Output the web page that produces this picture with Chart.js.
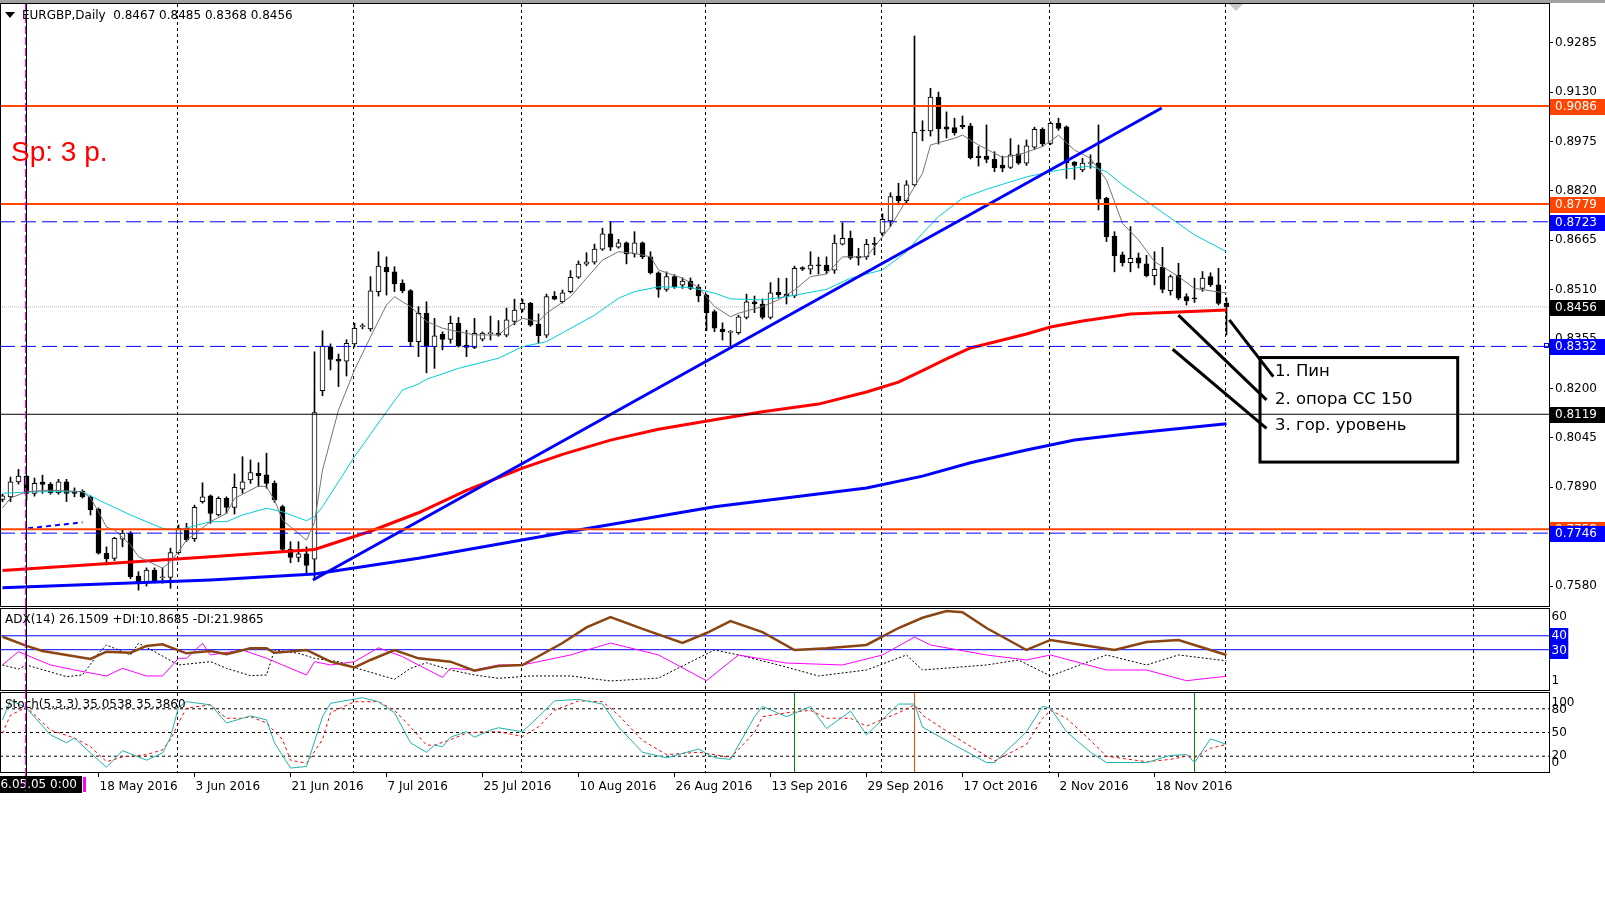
<!DOCTYPE html>
<html>
<head>
<meta charset="utf-8">
<title>EURGBP Daily</title>
<script src="https://cdn.jsdelivr.net/npm/chart.js@4.4.1/dist/chart.umd.min.js"></script>
<style>
  html, body { margin: 0; padding: 0; background: #fff; }
  #wrap { position: relative; width: 1605px; height: 900px; overflow: hidden; }
  #wrap canvas { position: absolute; left: 0; }
</style>
</head>
<body>
<div id="wrap">
  <canvas id="mainChart" width="1605" height="607" style="top:0px"></canvas>
  <canvas id="adxChart" width="1605" height="84" style="top:607px"></canvas>
  <canvas id="stochChart" width="1605" height="209" style="top:691px"></canvas>
</div>
<script>
// daily candles, 2 May 2016 .. 1 Dec 2016 (index = trading day)
const opens = [0.7852,0.7860,0.7907,0.7925,0.7871,0.7906,0.7900,0.7873,0.7907,0.7877,
0.7877,0.7860,0.7821,0.7683,0.7667,0.7727,0.7746,0.7611,0.7589,0.7630,
0.7606,0.7607,0.7685,0.7761,0.7729,0.7845,0.7863,0.7803,0.7855,0.7827,
0.7884,0.7913,0.7934,0.7929,0.7902,0.7829,0.7695,0.7670,0.7681,0.7664,
0.8193,0.8331,0.8292,0.8286,0.8340,0.8394,0.8387,0.8504,0.8580,0.8566,
0.8530,0.8507,0.8347,0.8436,0.8331,0.8370,0.8354,0.8404,0.8336,0.8329,
0.8355,0.8372,0.8374,0.8367,0.8410,0.8448,0.8467,0.8402,0.8367,0.8490,
0.8472,0.8504,0.8549,0.8590,0.8596,0.8637,0.8685,0.8643,0.8657,0.8622,
0.8657,0.8613,0.8563,0.8511,0.8551,0.8524,0.8537,0.8517,0.8493,0.8441,
0.8386,0.8376,0.8375,0.8423,0.8472,0.8465,0.8423,0.8502,0.8496,0.8490,
0.8579,0.8574,0.8587,0.8587,0.8571,0.8653,0.8671,0.8615,0.8613,0.8655,
0.8687,0.8726,0.8804,0.8789,0.8839,0.9010,0.9008,0.9114,0.9021,0.9019,
0.9026,0.9024,0.8929,0.8929,0.8919,0.8901,0.8894,0.8936,0.8907,0.8957,
0.9013,0.8969,0.9032,0.9021,0.8910,0.8886,0.8906,0.8908,0.8797,0.8678,
0.8619,0.8595,0.8610,0.8591,0.8554,0.8580,0.8507,0.8556,0.8488,0.8483,
0.8514,0.8551,0.8525,0.8467];
const highs = [0.7868,0.7922,0.7946,0.7928,0.7919,0.7928,0.7905,0.7915,0.7915,0.7888,
0.7882,0.7863,0.7825,0.7703,0.7733,0.7756,0.7751,0.7625,0.7637,0.7637,
0.7637,0.7699,0.7772,0.7777,0.7834,0.7904,0.7866,0.7860,0.7860,0.7932,
0.7986,0.7976,0.7967,0.7997,0.7910,0.7834,0.7719,0.7719,0.7703,0.8315,
0.8381,0.8340,0.8308,0.8353,0.8405,0.8403,0.8551,0.8629,0.8613,0.8582,
0.8541,0.8510,0.8457,0.8472,0.8420,0.8378,0.8427,0.8423,0.8383,0.8420,
0.8377,0.8427,0.8413,0.8452,0.8480,0.8480,0.8470,0.8434,0.8496,0.8504,
0.8509,0.8570,0.8600,0.8626,0.8653,0.8703,0.8723,0.8668,0.8660,0.8692,
0.8660,0.8629,0.8566,0.8566,0.8557,0.8547,0.8547,0.8526,0.8496,0.8446,
0.8406,0.8382,0.8430,0.8496,0.8490,0.8481,0.8532,0.8546,0.8546,0.8584,
0.8582,0.8629,0.8612,0.8613,0.8682,0.8720,0.8694,0.8640,0.8668,0.8674,
0.8748,0.8814,0.8844,0.8852,0.9306,0.9040,0.9142,0.9130,0.9068,0.9048,
0.9055,0.9032,0.8959,0.9027,0.8943,0.8929,0.8984,0.8964,0.8980,0.9020,
0.9018,0.9037,0.9048,0.9024,0.8912,0.8922,0.8933,0.9027,0.8800,0.8692,
0.8628,0.8708,0.8625,0.8618,0.8629,0.8643,0.8556,0.8593,0.8497,0.8546,
0.8567,0.8563,0.8577,0.8485];
const lows = [0.7845,0.7845,0.7900,0.7850,0.7862,0.7871,0.7868,0.7868,0.7845,0.7860,
0.7856,0.7803,0.7680,0.7646,0.7660,0.7703,0.7603,0.7567,0.7580,0.7590,
0.7589,0.7573,0.7680,0.7720,0.7720,0.7840,0.7777,0.7800,0.7808,0.7806,
0.7871,0.7902,0.7892,0.7887,0.7843,0.7690,0.7653,0.7656,0.7622,0.7601,
0.8177,0.8258,0.8206,0.8239,0.8330,0.8387,0.8380,0.8490,0.8493,0.8504,
0.8500,0.8331,0.8300,0.8249,0.8263,0.8321,0.8342,0.8330,0.8300,0.8325,
0.8349,0.8352,0.8364,0.8362,0.8400,0.8440,0.8395,0.8342,0.8360,0.8478,
0.8468,0.8500,0.8545,0.8585,0.8590,0.8633,0.8633,0.8640,0.8591,0.8612,
0.8607,0.8559,0.8486,0.8505,0.8514,0.8514,0.8510,0.8472,0.8381,0.8378,
0.8352,0.8331,0.8370,0.8418,0.8438,0.8418,0.8418,0.8483,0.8465,0.8485,
0.8570,0.8559,0.8559,0.8560,0.8561,0.8650,0.8605,0.8587,0.8605,0.8619,
0.8680,0.8708,0.8776,0.8780,0.8835,0.8977,0.8992,0.8967,0.8986,0.8995,
0.9015,0.8920,0.8898,0.8908,0.8880,0.8880,0.8890,0.8903,0.8900,0.8950,
0.8960,0.8965,0.9010,0.8859,0.8856,0.8880,0.8891,0.8760,0.8661,0.8566,
0.8584,0.8566,0.8578,0.8550,0.8525,0.8500,0.8493,0.8478,0.8462,0.8470,
0.8505,0.8520,0.8462,0.8368];
const closes = [0.7863,0.7907,0.7925,0.7871,0.7902,0.7899,0.7873,0.7907,0.7871,0.7871,
0.7860,0.7819,0.7683,0.7665,0.7730,0.7746,0.7609,0.7589,0.7630,0.7597,
0.7609,0.7685,0.7761,0.7725,0.7827,0.7860,0.7808,0.7855,0.7827,0.7890,
0.7907,0.7936,0.7926,0.7902,0.7850,0.7695,0.7670,0.7681,0.7645,0.8124,
0.8333,0.8291,0.8286,0.8342,0.8389,0.8396,0.8506,0.8584,0.8566,0.8528,
0.8507,0.8347,0.8436,0.8331,0.8365,0.8354,0.8404,0.8333,0.8329,0.8373,
0.8374,0.8374,0.8367,0.8415,0.8446,0.8467,0.8399,0.8366,0.8488,0.8480,
0.8500,0.8549,0.8590,0.8597,0.8637,0.8685,0.8643,0.8657,0.8622,0.8657,
0.8613,0.8563,0.8511,0.8551,0.8519,0.8537,0.8514,0.8490,0.8438,0.8389,
0.8378,0.8378,0.8425,0.8472,0.8465,0.8423,0.8500,0.8494,0.8490,0.8577,
0.8574,0.8587,0.8585,0.8570,0.8656,0.8671,0.8610,0.8610,0.8652,0.8652,
0.8731,0.8802,0.8789,0.8839,0.9004,0.9008,0.9114,0.9015,0.9014,0.9003,
0.9021,0.8924,0.8924,0.8919,0.8893,0.8891,0.8933,0.8907,0.8961,0.9013,
0.8967,0.9032,0.9016,0.8908,0.8900,0.8907,0.8908,0.8794,0.8676,0.8616,
0.8595,0.8608,0.8593,0.8554,0.8574,0.8511,0.8551,0.8483,0.8475,0.8481,
0.8546,0.8526,0.8467,0.8456];

// moving averages: [bar index, price]
const ma200Pts = [[0,0.7575],[26,0.7599],[39,0.7618],[52,0.7667],[72,0.7756],[89,0.7829],[108,0.7888],
  [115,0.7925],[121,0.7967],[128,0.8007],[134,0.8038],[141,0.8059],[153,0.8089]];
const ma150Pts = [[0,0.7629],[26,0.7672],[39,0.7695],[46,0.7752],[52,0.7810],[58,0.7880],[65,0.7950],
  [70,0.7993],[76,0.8038],[82,0.8072],[89,0.8102],[95,0.8127],[102,0.8151],[108,0.8189],[112,0.8220],
  [115,0.8256],[118,0.8293],[121,0.8327],[125,0.8352],[128,0.8371],[131,0.8393],[135,0.8412],
  [141,0.8434],[147,0.8440],[153,0.8446]];
const ma21Pts = [[0,0.7871],[4,0.7876],[10,0.7876],[12,0.7850],[16,0.7803],[20,0.7761],[22,0.7756],
  [26,0.7782],[28,0.7782],[30,0.7803],[33,0.7824],[35,0.7813],[38,0.7785],[39,0.7798],[40,0.7829],
  [44,0.7986],[48,0.8127],[50,0.8195],[52,0.8214],[53,0.8229],[57,0.8263],[62,0.8295],[65,0.8331],
  [68,0.8347],[74,0.8430],[77,0.8483],[79,0.8504],[82,0.8519],[86,0.8517],[89,0.8499],[91,0.8481],
  [95,0.8478],[98,0.8488],[103,0.8511],[106,0.8546],[110,0.8572],[113,0.8629],[115,0.8687],
  [117,0.8739],[120,0.8797],[123,0.8825],[128,0.8864],[132,0.8885],[136,0.8898],[138,0.8880],
  [140,0.8839],[144,0.8770],[149,0.8682],[153,0.8629]];
const ma5Pts = [[0,0.7825],[1,0.7856],[3,0.7876],[6,0.7881],[10,0.7876],[11,0.7856],[12,0.7813],
  [13,0.7765],[14,0.7756],[16,0.7709],[17,0.7672],[20,0.7636],[21,0.7656],[22,0.7688],[23,0.7724],
  [26,0.7782],[28,0.7808],[29,0.7855],[32,0.7894],[33,0.7892],[34,0.7850],[35,0.7787],[38,0.7724],
  [39,0.7780],[40,0.7944],[42,0.8132],[44,0.8258],[46,0.8362],[48,0.8462],[49,0.8488],[50,0.8472],
  [51,0.8457],[53,0.8410],[55,0.8389],[57,0.8378],[59,0.8368],[62,0.8368],[63,0.8389],[65,0.8420],
  [67,0.8410],[68,0.8436],[71,0.8488],[73,0.8546],[75,0.8603],[77,0.8629],[79,0.8624],[81,0.8613],
  [82,0.8572],[85,0.8546],[87,0.8517],[89,0.8457],[91,0.8425],[92,0.8436],[95,0.8457],[97,0.8478],
  [99,0.8509],[101,0.8551],[103,0.8559],[105,0.8613],[108,0.8613],[111,0.8708],[113,0.8791],
  [115,0.8875],[116,0.8964],[119,0.8985],[120,0.8995],[122,0.8964],[125,0.8925],[127,0.8933],
  [130,0.8959],[132,0.8995],[134,0.8948],[136,0.8922],[138,0.8854],[140,0.8718],[142,0.8666],
  [144,0.8598],[147,0.8551],[149,0.8514],[153,0.8499]];
const trendPts = [[38.8,0.7599],[144.9,0.9080]];
const smallObjPts = [[3.2,0.7761],[10,0.7780]];

// horizontal levels
const redLevels = [0.9086, 0.8779, 0.7758];
const blueLevels = [0.8723, 0.8332, 0.7746];
const blackLevel = 0.8119;
const bidPrice = 0.8456;
const priceTicks = [0.7580,0.7735,0.7890,0.8045,0.8200,0.8355,0.8510,0.8665,0.8820,0.8975,0.9130,0.9285];

// ADX(14): [bar, value]
const adxPts = [[0,39.3],[3,32.7],[5,29.1],[8,26.2],[11,23.3],[13,28.6],[16,27.8],[18,32.7],[20,33.9],
  [23,27.4],[26,29.1],[28,26.7],[31,31.0],[33,31.0],[34,27.8],[38,29.8],[41,21.4],[44,17.3],[46,22.6],
  [49,29.8],[52,23.8],[56,21.4],[59,14.9],[62,18.3],[65,19.0],[70,34.8],[73,46.0],[76,53.5],[80,45.0],
  [85,34.8],[88,42.0],[91,50.6],[95,42.7],[99,29.8],[103,31.0],[108,33.4],[112,45.6],[115,53.0],
  [118,57.8],[120,57.0],[123,45.6],[128,29.8],[131,37.0],[135,33.4],[139,29.8],[143,35.5],[147,37.0],
  [151,29.8],[153,26.2]];
const plusDiPts = [[0,19.0],[2,28.6],[3,26.2],[6,19.0],[9,15.4],[13,11.1],[15,16.6],[18,11.1],[20,11.1],
  [22,23.8],[23,23.8],[25,34.6],[26,26.2],[30,29.8],[33,23.8],[35,19.0],[38,11.8],[39,21.4],[41,19.0],
  [44,21.4],[47,31.4],[50,25.0],[52,19.0],[55,10.1],[56,16.6],[59,15.4],[62,19.0],[65,19.0],[71,26.2],
  [76,34.8],[82,26.2],[88,7.7],[92,26.2],[98,20.4],[105,19.0],[110,26.2],[114,39.1],[116,33.4],
  [123,26.2],[128,22.6],[131,26.2],[138,15.4],[143,15.4],[148,7.7],[153,10.9]];
const minusDiPts = [[0,19.0],[2,16.1],[3,19.0],[8,10.6],[10,11.8],[12,27.4],[13,33.4],[16,26.2],[17,34.6],
  [19,28.6],[22,19.0],[26,21.4],[28,16.6],[31,11.3],[33,11.8],[34,29.8],[37,27.4],[39,23.8],[42,21.4],
  [45,15.4],[49,8.7],[51,16.6],[53,20.6],[56,15.4],[59,11.8],[62,9.4],[66,11.1],[71,11.1],[76,7.5],
  [82,9.6],[89,29.8],[92,26.2],[97,19.0],[102,11.1],[108,15.4],[113,26.2],[115,15.4],[123,19.0],
  [127,22.6],[131,11.1],[138,26.2],[143,19.0],[147,26.2],[153,22.0]];
const adxLevels = [40, 30];

// Stochastic(5,3,3): [bar, value]
const stochKPts = [[0,66],[1,91],[3,81],[6,47],[8,37],[9,43],[11,24],[13,6],[15,27],[18,15],[20,24],
  [21,44],[22,82],[23,89],[26,85],[28,62],[30,68],[31,71],[33,66],[34,37],[36,5],[38,7],[40,70],[41,87],
  [45,94],[47,89],[49,75],[51,37],[53,25],[54,34],[55,32],[56,44],[58,51],[59,44],[61,53],[62,56],
  [65,51],[67,70],[69,90],[72,92],[75,86],[77,57],[80,25],[83,18],[87,29],[89,18],[91,16],[94,70],
  [95,83],[98,70],[101,83],[103,55],[106,77],[108,47],[112,86],[114,86],[115,57],[119,34],[123,12],
  [124,12],[128,51],[130,83],[131,81],[133,51],[136,25],[138,12],[143,12],[146,21],[148,22],[149,12],
  [151,42],[153,35]];
const stochDPts = [[0,49],[1,72],[3,82],[6,53],[9,43],[11,32],[13,13],[15,19],[18,22],[20,28],[21,41],
  [22,62],[23,81],[26,85],[28,68],[30,68],[31,70],[33,62],[35,41],[36,15],[38,11],[40,41],[41,75],
  [44,89],[47,89],[49,78],[51,57],[53,34],[54,34],[56,41],[58,49],[60,51],[62,51],[65,45],[67,57],
  [69,78],[72,90],[75,89],[77,72],[80,40],[83,22],[87,25],[89,22],[91,18],[94,50],[95,70],[98,75],
  [101,78],[103,68],[106,68],[108,58],[112,75],[114,85],[115,72],[119,45],[123,20],[124,14],[128,35],
  [130,68],[131,78],[133,68],[136,40],[138,20],[143,13],[146,16],[148,20],[149,18],[151,30],[153,35]];
const stochLevels = [80, 50, 20];
const greenMarkIdx = [99, 149];
const redMarkIdx = [114];

// time axis
const dateIdx = [12, 24, 36, 48, 60, 72, 84, 96, 108, 120, 132, 144];
const dateLabels = ['18 May 2016','3 Jun 2016','21 Jun 2016','7 Jul 2016','25 Jul 2016','10 Aug 2016',
  '26 Aug 2016','13 Sep 2016','29 Sep 2016','17 Oct 2016','2 Nov 2016','18 Nov 2016'];
const gridIdx = [22, 44, 65, 88, 110, 131, 153, 184];
const markIdx = 3;

// note on the chart
const noteLinks = [[153.35,0.8415,158.85,0.8237],[146.98,0.8430,158.0,0.8164],[146.27,0.8323,158.0,0.8075]];
const noteBox = [157.19, 0.8297, 181.9, 0.7969];
const noteText = ['1. Пин', '2. опора СС 150', '3. гор. уровень'];
const noteTextPos = [[159.06,0.8252],[159.06,0.8165],[159.06,0.8082]];

const X_MIN = -0.3125, X_MAX = 193.3125;
const PRICE_MIN = 0.75174, PRICE_MAX = 0.94064;
const FONT = '"DejaVu Sans", Verdana, sans-serif';

Chart.defaults.font.family = FONT;
Chart.defaults.font.size = 12;
Chart.defaults.color = '#000';
Chart.defaults.plugins.legend.display = false;
Chart.defaults.plugins.tooltip.enabled = false;

const pts = arr => arr.map(([x, y]) => ({x, y}));
const span = v => [{x: X_MIN, y: v}, {x: X_MAX, y: v}];
function lineDs(data, color, width, dash, order) {
  return { type: 'line', data, borderColor: color, borderWidth: width, borderDash: dash || [],
           pointRadius: 0, fill: false, tension: 0, order };
}
const xHidden = { type: 'linear', min: X_MIN, max: X_MAX, display: false, offset: false };
const noPad = s => { s.paddingTop = 0; s.paddingBottom = 0; s.paddingLeft = 0; s.paddingRight = 0; };

function drawGrid(ctx, x, top, bottom) {
  ctx.save();
  ctx.strokeStyle = '#000'; ctx.lineWidth = 1; ctx.setLineDash([3, 3]);
  gridIdx.forEach(g => {
    const px = Math.floor(x.getPixelForValue(g)) - 0.5;
    ctx.beginPath(); ctx.moveTo(px, top); ctx.lineTo(px, bottom); ctx.stroke();
  });
  ctx.restore();
}
function drawMarkLine(ctx, x, top, bottom) {
  const px = Math.floor(x.getPixelForValue(markIdx)) + 0.5;
  ctx.save();
  ctx.lineWidth = 1;
  ctx.strokeStyle = '#000';
  ctx.beginPath(); ctx.moveTo(px, top); ctx.lineTo(px, bottom); ctx.stroke();
  ctx.strokeStyle = '#FF00FF'; ctx.setLineDash([8, 3]);
  ctx.beginPath(); ctx.moveTo(px - 1, top); ctx.lineTo(px - 1, bottom); ctx.stroke();
  ctx.restore();
}
function sideLabel(ctx, text, y, bg) {
  ctx.save();
  ctx.font = '12px ' + FONT; ctx.textBaseline = 'middle'; ctx.textAlign = 'left';
  if (bg) {
    const w = ctx.measureText(text).width;
    ctx.fillStyle = bg; ctx.fillRect(1550, Math.round(y) - 8, w + 3, 16);
    ctx.fillStyle = '#fff';
  } else {
    ctx.fillStyle = '#000';
  }
  ctx.fillText(text, 1551.5, y);
  ctx.restore();
}

// ---------- main price panel ----------
const idx = opens.map((_, i) => i);
const wickData = idx.map(i => ({x: i, y: [lows[i], highs[i]]}));
const bodyData = idx.map(i => ({x: i, y: [Math.min(opens[i], closes[i]), Math.max(opens[i], closes[i])]}));
const bodyFill = idx.map(i => closes[i] >= opens[i] ? '#ffffff' : '#000000');

const mainDecor = {
  id: 'mainDecor',
  beforeDatasetsDraw(chart) {
    const {ctx, chartArea: a, scales: {x}} = chart;
    drawGrid(ctx, x, a.top, a.bottom);
  },
  afterDatasetsDraw(chart) {
    const {ctx, chartArea: a, scales: {x, y}} = chart;
    drawMarkLine(ctx, x, a.top, chart.height);
    ctx.save();
    ctx.strokeStyle = '#000'; ctx.lineWidth = 3;
    noteLinks.forEach(([i1, p1, i2, p2]) => {
      ctx.beginPath();
      ctx.moveTo(x.getPixelForValue(i1), y.getPixelForValue(p1));
      ctx.lineTo(x.getPixelForValue(i2), y.getPixelForValue(p2));
      ctx.stroke();
    });
    const bx1 = x.getPixelForValue(noteBox[0]), by1 = y.getPixelForValue(noteBox[1]);
    const bx2 = x.getPixelForValue(noteBox[2]), by2 = y.getPixelForValue(noteBox[3]);
    ctx.strokeRect(bx1, by1, bx2 - bx1, by2 - by1);
    ctx.fillStyle = '#000'; ctx.font = '16.5px ' + FONT;
    ctx.textBaseline = 'middle'; ctx.textAlign = 'left';
    noteText.forEach((t, k) => ctx.fillText(t, x.getPixelForValue(noteTextPos[k][0]), y.getPixelForValue(noteTextPos[k][1])));
    // small anchor box on the 0.8332 line
    ctx.lineWidth = 1; ctx.strokeStyle = '#0000FF';
    ctx.strokeRect(1544.5, Math.round(y.getPixelForValue(blueLevels[1])) - 2.5, 4, 4);
    ctx.restore();
  },
  afterDraw(chart) {
    const {ctx, scales: {y}} = chart;
    ctx.save();
    // price tags on the right scale (0.7758 sits mostly under 0.7746)
    const tags = [[redLevels[2], '#FF4500'], [redLevels[0], '#FF4500'], [redLevels[1], '#FF4500'],
      [blueLevels[0], '#0000FF'], [blueLevels[1], '#0000FF'], [blueLevels[2], '#0000FF'],
      [bidPrice, '#000000'], [blackLevel, '#000000']];
    ctx.font = '12px ' + FONT; ctx.textBaseline = 'middle'; ctx.textAlign = 'left';
    tags.forEach(([v, c]) => {
      const py = Math.round(y.getPixelForValue(v));
      ctx.fillStyle = c; ctx.fillRect(1550, py - 7, 55, 16);
      ctx.fillStyle = '#fff'; ctx.fillText(v.toFixed(4), 1555, py + 1);
    });
    // frame
    ctx.fillStyle = '#A0A0A0'; ctx.fillRect(0, 0, 1605, 3);
    ctx.strokeStyle = '#000'; ctx.lineWidth = 1;
    ctx.strokeRect(0.5, 3.5, 1549, 603);
    ctx.fillStyle = '#C8C8C8';
    ctx.beginPath(); ctx.moveTo(1229, 4); ctx.lineTo(1243, 4); ctx.lineTo(1236, 11); ctx.closePath(); ctx.fill();
    // title
    ctx.fillStyle = '#000';
    ctx.beginPath(); ctx.moveTo(5, 12); ctx.lineTo(15, 12); ctx.lineTo(10, 18); ctx.closePath(); ctx.fill();
    ctx.fillText('EURGBP,Daily  0.8467 0.8485 0.8368 0.8456', 22, 16);
    ctx.fillStyle = '#FF0000'; ctx.font = '28px "Liberation Sans", Arial, sans-serif';
    ctx.textBaseline = 'alphabetic';
    ctx.fillText('Sp: 3 p.', 11, 161);
    ctx.restore();
  }
};

new Chart(document.getElementById('mainChart'), {
  type: 'bar',
  data: {
    datasets: [
      lineDs(span(bidPrice), 'rgb(190,175,205)', 1, [1, 1], 30),
      { type: 'bar', data: wickData, backgroundColor: '#000', barThickness: 1, grouped: false, order: 21 },
      { type: 'bar', data: bodyData, backgroundColor: bodyFill, borderColor: '#000', borderWidth: 1,
        borderSkipped: false, barThickness: 5, minBarLength: 1, grouped: false, order: 20 },
      lineDs(pts(ma200Pts), '#0000FF', 3, null, 12),
      lineDs(pts(ma150Pts), '#FF0000', 3, null, 11),
      lineDs(pts(ma21Pts), 'rgb(0,206,209)', 1, null, 10),
      lineDs(pts(ma5Pts), 'rgb(120,112,124)', 1, null, 9),
      lineDs(pts(smallObjPts), '#0000FF', 2, [5, 4], 6),
      lineDs(pts(trendPts), '#0000FF', 3, null, 5),
      ...blueLevels.map(v => lineDs(span(v), '#0000FF', 1, [15, 6], 4)),
      lineDs(span(blackLevel), '#000000', 1, null, 3),
      ...redLevels.map(v => lineDs(span(v), '#FF4500', 2, null, 2))
    ]
  },
  options: {
    responsive: false,
    animation: false,
    layout: { padding: { top: 4, bottom: 1, left: 0, right: 0 }, autoPadding: false },
    scales: {
      x: xHidden,
      y: {
        position: 'right', min: PRICE_MIN, max: PRICE_MAX,
        afterBuildTicks: s => { s.ticks = priceTicks.map(v => ({value: v})); },
        afterFit: s => { s.width = 56; noPad(s); },
        ticks: { autoSkip: false, padding: 2, callback: v => Number(v).toFixed(4) },
        grid: { drawOnChartArea: false, tickLength: 4, color: '#000' },
        border: { display: false }
      }
    }
  },
  plugins: [mainDecor]
});

// ---------- ADX panel ----------
const adxDecor = {
  id: 'adxDecor',
  beforeDatasetsDraw(chart) {
    const {ctx, chartArea: a, scales: {x}} = chart;
    drawGrid(ctx, x, a.top, a.bottom);
  },
  afterDraw(chart) {
    const {ctx, scales: {x, y}} = chart;
    drawMarkLine(ctx, x, 0, chart.height);
    ctx.save();
    ctx.strokeStyle = '#000'; ctx.lineWidth = 1;
    ctx.strokeRect(0.5, 1.5, 1549, 82);
    ctx.font = '12px ' + FONT; ctx.textBaseline = 'middle'; ctx.fillStyle = '#000';
    ctx.fillText('ADX(14) 26.1509 +DI:10.8685 -DI:21.9865', 5, 13);
    ctx.restore();
    sideLabel(ctx, '60', y.getPixelForValue(60) + 9);
    sideLabel(ctx, String(adxLevels[0]), y.getPixelForValue(adxLevels[0]), '#0000FF');
    sideLabel(ctx, String(adxLevels[1]), y.getPixelForValue(adxLevels[1]) + 1, '#0000FF');
    sideLabel(ctx, '1', y.getPixelForValue(1) - 9);
  }
};

new Chart(document.getElementById('adxChart'), {
  type: 'line',
  data: {
    datasets: [
      ...adxLevels.map(v => lineDs(span(v), '#0000FF', 1, null, 10)),
      lineDs(pts(minusDiPts), '#000000', 1, [2, 2], 3),
      lineDs(pts(plusDiPts), '#FF00FF', 1, null, 2),
      lineDs(pts(adxPts), 'rgb(139,69,19)', 2.5, null, 1)
    ]
  },
  options: {
    responsive: false,
    animation: false,
    layout: { padding: { top: 1, bottom: 1, left: 0, right: 56 }, autoPadding: false },
    scales: { x: xHidden, y: { display: false, min: 1, max: 60 } }
  },
  plugins: [adxDecor]
});

// ---------- Stochastic panel + time axis ----------
const stochDecor = {
  id: 'stochDecor',
  beforeDatasetsDraw(chart) {
    const {ctx, chartArea: a, scales: {x}} = chart;
    drawGrid(ctx, x, a.top, a.bottom);
  },
  afterDraw(chart) {
    const {ctx, scales: {x, y}} = chart;
    ctx.save();
    ctx.strokeStyle = '#000'; ctx.lineWidth = 1;
    ctx.strokeRect(0.5, 1.5, 1549, 80);
    ctx.font = '12px ' + FONT; ctx.textBaseline = 'middle'; ctx.fillStyle = '#000';
    ctx.fillText('Stoch(5,3,3) 35.0538 35.3860', 5, 14);
    // highlighted date of the vertical line
    ctx.fillStyle = '#000'; ctx.fillRect(0, 85, 82, 17);
    ctx.fillStyle = '#FF00FF'; ctx.fillRect(83, 86, 3, 15);
    ctx.fillStyle = '#fff'; ctx.textAlign = 'right';
    ctx.fillText('2016.05.05 0:00', 77, 94);
    ctx.restore();
    drawMarkLine(ctx, x, 0, 100);
    sideLabel(ctx, '100', y.getPixelForValue(100) + 9.5);
    sideLabel(ctx, String(stochLevels[0]), y.getPixelForValue(stochLevels[0]) + 1);
    sideLabel(ctx, String(stochLevels[1]), y.getPixelForValue(stochLevels[1]));
    sideLabel(ctx, String(stochLevels[2]), y.getPixelForValue(stochLevels[2]));
    sideLabel(ctx, '0', y.getPixelForValue(0) - 9);
  }
};

new Chart(document.getElementById('stochChart'), {
  type: 'line',
  data: {
    datasets: [
      ...stochLevels.map(v => lineDs(span(v), '#000000', 1, [3, 3], 10)),
      ...greenMarkIdx.map(i => lineDs([{x: i, y: 0}, {x: i, y: 100}], 'rgb(0,140,0)', 1, null, 9)),
      ...redMarkIdx.map(i => lineDs([{x: i, y: 0}, {x: i, y: 100}], '#FF4500', 1, null, 9)),
      lineDs(pts(stochDPts), '#FF0000', 1, [3, 3], 2),
      lineDs(pts(stochKPts), 'rgb(32,178,170)', 1, null, 1)
    ]
  },
  options: {
    responsive: false,
    animation: false,
    layout: { padding: { top: 2, bottom: 0, left: 0, right: 56 }, autoPadding: false },
    scales: {
      x: {
        type: 'linear', min: X_MIN, max: X_MAX, offset: false, position: 'bottom',
        afterBuildTicks: s => { s.ticks = dateIdx.map(v => ({value: v})); },
        afterFit: s => { s.height = 128; noPad(s); },
        ticks: { autoSkip: false, maxRotation: 0, minRotation: 0, align: 'start', padding: 3,
                 labelOffset: 1, callback: (v, k) => dateLabels[k] },
        grid: { drawOnChartArea: false, tickLength: 5, color: '#000' },
        border: { display: false }
      },
      y: { display: false, min: 0, max: 100 }
    }
  },
  plugins: [stochDecor]
});
</script>
</body>
</html>
